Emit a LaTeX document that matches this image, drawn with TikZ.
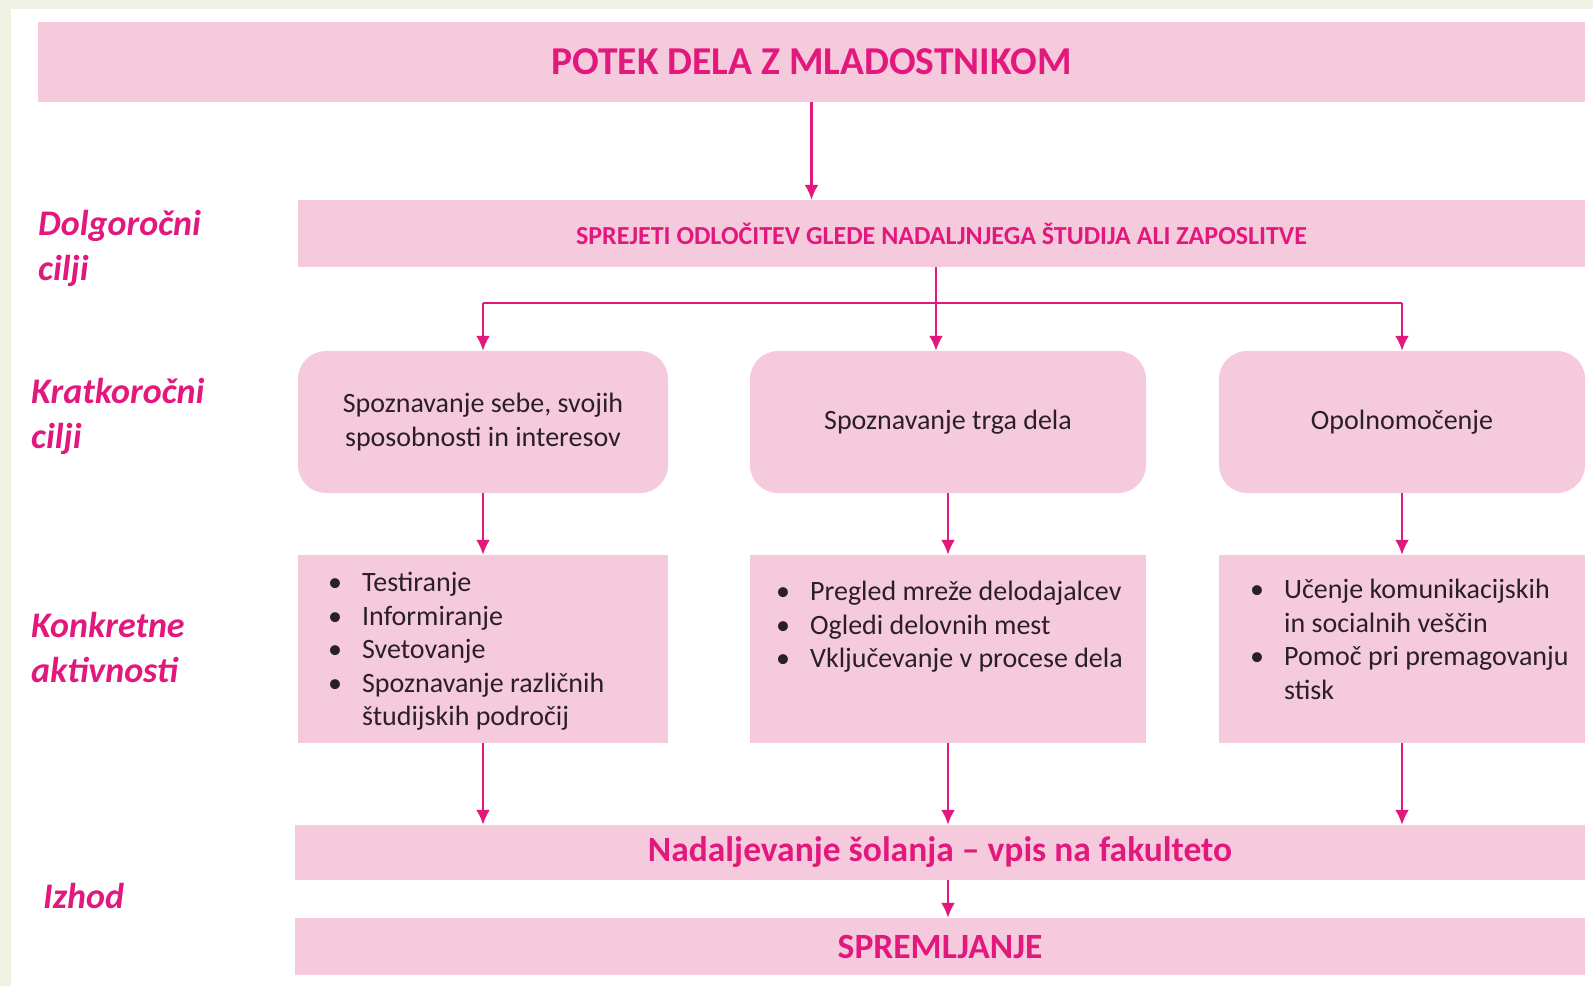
\documentclass[tikz,border=0pt]{standalone}
\usepackage{fontspec}
\setmainfont{Carlito}
\usetikzlibrary{calc}
\usetikzlibrary{positioning}
\usetikzlibrary{arrows.meta}
\definecolor{pinkfill}{HTML}{F6CADD}
\definecolor{magentatext}{HTML}{E2187D}
\definecolor{darktext}{HTML}{2A1F28}
\definecolor{framegreen}{HTML}{EEF2E2}
\tikzstyle{band}=[%
  fill=pinkfill,
  inner sep=0pt,
  text=magentatext,
  align=center
]
\tikzstyle{goalbox}=[%
  fill=pinkfill,
  rounded corners=28pt,
  minimum height=142pt,
  inner sep=0pt,
  text=darktext,
  align=center,
  font=\fontsize{28}{34}\selectfont
]
\tikzstyle{actbox}=[%
  fill=pinkfill,
  minimum height=188pt,
  inner sep=0pt
]
\tikzstyle{listtext}=[%
  anchor=north west,
  inner sep=0pt,
  text=darktext,
  font=\fontsize{28}{33.5}\selectfont
]
\tikzstyle{rowlabel}=[%
  anchor=west,
  align=left,
  inner sep=0pt,
  text=magentatext,
  font=\fontsize{36}{45}\selectfont\bfseries\itshape
]
\tikzstyle{arr}=[line width=2.5pt, draw=magentatext, -{Latex[length=15pt,width=14pt]}]
\tikzstyle{line}=[line width=2.5pt, draw=magentatext]

\begin{document}
\begin{tikzpicture}[x=1pt, y=-1pt]
    \fill[framegreen] (0,0) rectangle (1593,986);
    \fill[white] (11,9) rectangle (1593,986);
    \useasboundingbox (0,0) rectangle (1593,986);

    \node[band, minimum width=1547pt, minimum height=80pt,
      font=\fontsize{39.5}{46}\selectfont\bfseries] (title) at (811.5,62) {POTEK DELA Z MLADOSTNIKOM};
    \node[band, minimum width=1287pt, minimum height=67pt,
      font=\fontsize{26}{30}\selectfont\bfseries] (goal) at (941.5,233.5) {SPREJETI ODLOČITEV GLEDE NADALJNJEGA ŠTUDIJA ALI ZAPOSLITVE};

    \node[goalbox, minimum width=370pt] (kA) at (483,422) {Spoznavanje sebe, svojih\\sposobnosti in interesov};
    \node[goalbox, minimum width=396pt] (kB) at (948,422) {Spoznavanje trga dela};
    \node[goalbox, minimum width=366pt] (kC) at (1402,422) {Opolnomočenje};

    \node[actbox, minimum width=370pt] (aA) at (483,649) {};
    \node[actbox, minimum width=396pt] (aB) at (948,649) {};
    \node[actbox, minimum width=366pt] (aC) at (1402,649) {};

    \node[listtext] (listA) at (328,568) {%
      \begin{tabular}{@{}l@{\hspace{20pt}}l@{}}
        \textbullet & Testiranje\\
        \textbullet & Informiranje\\
        \textbullet & Svetovanje\\
        \textbullet & Spoznavanje različnih\\
                    & študijskih področij
      \end{tabular}};
    \node[listtext] (listB) at (776,577) {%
      \begin{tabular}{@{}l@{\hspace{20pt}}l@{}}
        \textbullet & Pregled mreže delodajalcev\\
        \textbullet & Ogledi delovnih mest\\
        \textbullet & Vključevanje v procese dela
      \end{tabular}};
    \node[listtext] (listC) at (1250,575) {%
      \begin{tabular}{@{}l@{\hspace{20pt}}l@{}}
        \textbullet & Učenje komunikacijskih\\
                    & in socialnih veščin\\
        \textbullet & Pomoč pri premagovanju\\
                    & stisk
      \end{tabular}};

    \node[band, minimum width=1290pt, minimum height=55pt,
      font=\fontsize{35.5}{40}\selectfont\bfseries] (out) at (940,852.5) {Nadaljevanje šolanja – vpis na fakulteto};
    \node[band, minimum width=1290pt, minimum height=57pt,
      font=\fontsize{35.5}{40}\selectfont\bfseries] (follow) at (940,946.5) {SPREMLJANJE};

    % connectors
    \coordinate (split) at (936,303);
    \draw[arr] (title.south) -- (title.south |- goal.north);
    \draw[line] (goal.south -| split) -- (split);
    \draw[line] (kA.north |- split) -- (kC.north |- split);
    \draw[arr] (split) -- (split |- kB.north);
    \foreach \k in {kA, kC} {%
      \draw[arr] (\k.north |- split) -- (\k.north);
    }
    \foreach \k/\a in {kA/aA, kB/aB, kC/aC} {%
      \draw[arr] (\k.south) -- (\a.north);
      \draw[arr] (\a.south) -- (\a.south |- out.north);
    }
    \draw[arr] (out.south -| aB.south) -- (follow.north -| aB.south);

    \foreach \name/\x/\y/\txt in {dolg/38/248/{Dolgoročni\\cilji},
        krat/31/416/{Kratkoročni\\cilji},
        konk/31/647/{Konkretne\\aktivnosti},
        izhod/43/896/{Izhod}} {%
      \node[rowlabel] (\name) at (\x,\y) {\txt};
    }
\end{tikzpicture}
\end{document}
